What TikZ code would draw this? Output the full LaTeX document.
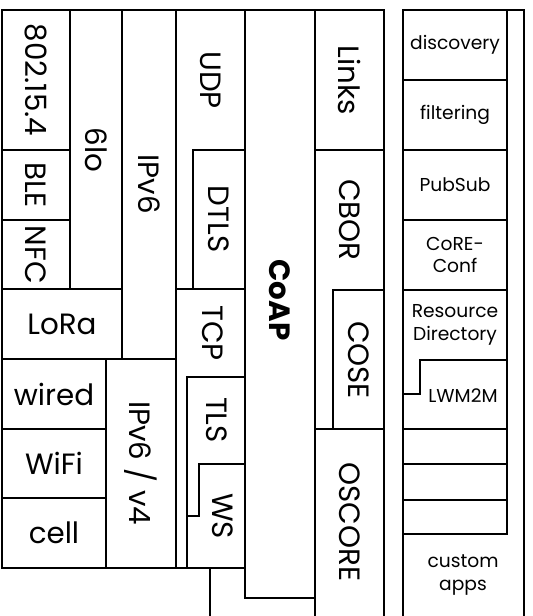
\documentclass[tikz,border=0pt]{standalone}
\usepackage{fontspec}
\setmainfont{Poppins}
\begin{document}
\begin{tikzpicture}[x=0.75pt,y=-0.75pt,line width=1.3pt,line join=miter,
  vlabel/.style={font=\fontsize{22}{24}\selectfont, rotate=-90, inner sep=0pt},
  hlabel/.style={font=\fontsize{22}{24}\selectfont, inner sep=0pt},
  slabel/.style={font=\fontsize{14}{17}\selectfont, align=center, inner sep=0pt}]
\useasboundingbox (0,0) rectangle (532,616);
% link layer
\draw (2,10) rectangle (70,150);
\draw (2,150) rectangle (70,220);
\draw (2,220) rectangle (70,289);
\draw (70,10) rectangle (122,289);
\draw (122,10) rectangle (176,359);
\draw (2,289) rectangle (122,359);
\draw (2,359) rectangle (106,429);
\draw (2,429) rectangle (106,498);
\draw (2,498) rectangle (106,568);
\draw (106,359) rectangle (176,568);
% transport
\draw (176,10) rectangle (245,289);
\draw (193,150) rectangle (245,289);
\draw (176,289) rectangle (245,568);
\draw (187,377) rectangle (245,568);
\draw (245,464) -- (199,464) -- (199,516) -- (187,516);
\draw (210,568) -- (210,616);
% CoAP
\draw (245,10) rectangle (315,598);
% right of CoAP
\draw (315,10) rectangle (384,150);
\draw (315,150) rectangle (384,429);
\draw (333,290) rectangle (384,429);
\draw (315,616) -- (315,429) -- (384,429) -- (384,616);
% right block
\draw (403,616) -- (403,10) -- (524,10) -- (524,616);
\draw (403,10) rectangle (507,534);
\foreach \yy in {80,150,220,290,429,464,500} \draw (403,\yy) -- (507,\yy);
\draw (507,360) -- (420,360) -- (420,394) -- (403,394);
% labels
\node[vlabel] (n802) at (36,80) {802.15.4};
\node[vlabel] (ble) at (36,185) {BLE};
\node[vlabel] (nfc) at (36,255) {NFC};
\node[vlabel] (sixlo) at (96,150) {6lo};
\node[vlabel] (ipv6) at (149,184) {IPv6};
\node[hlabel] (lora) at (62,324) {LoRa};
\node[hlabel] (wired) at (54,394) {wired};
\node[hlabel] (wifi) at (54,463) {WiFi};
\node[hlabel] (cell) at (54,533) {cell};
\node[vlabel] (ipv64) at (141,463) {IPv6 / v4};
\node[vlabel] (udp) at (211,80) {UDP};
\node[vlabel] (dtls) at (219,219) {DTLS};
\node[vlabel] (tcp) at (213,333) {TCP};
\node[vlabel] (tls) at (217,420) {TLS};
\node[vlabel] (ws) at (223,516) {WS};
\node[vlabel, font=\fontsize{22}{24}\selectfont\bfseries] (coap) at (280,300) {CoAP};
\node[vlabel] (links) at (350,80) {Links};
\node[vlabel] (cbor) at (350,220) {CBOR};
\node[vlabel] (cose) at (359,360) {COSE};
\node[vlabel] (oscore) at (350,522) {OSCORE};
\node[slabel] (disc) at (455,45) {discovery};
\node[slabel] (filt) at (455,115) {filtering};
\node[slabel] (pubsub) at (455,185) {PubSub};
\node[slabel] (coreconf) at (455,255) {CoRE-\\Conf};
\node[slabel] (rd) at (455,325) {Resource\\Directory};
\node[slabel] (lwm) at (463,396) {LWM2M};
\node[slabel] (custom) at (463,575) {custom\\apps};
\end{tikzpicture}
\end{document}
